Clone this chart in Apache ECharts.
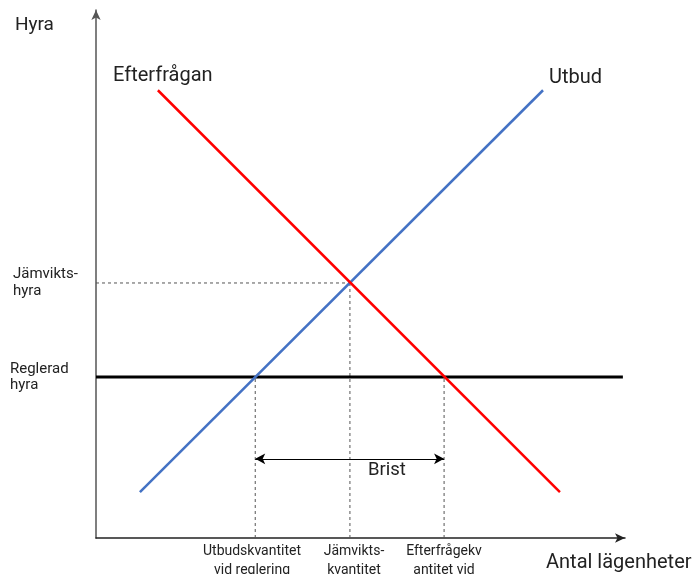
<!DOCTYPE html>
<html><head><meta charset="utf-8">
<script src="https://cdn.jsdelivr.net/npm/echarts@6/dist/echarts.min.js"></script>
<style>html,body{margin:0;padding:0;background:#fff}#c{width:692px;height:574px}</style>
</head><body><div id="c"></div>
<script>
// Data (abstract units, 0-100 on both axes)
const demandX = [11.7, 87.7];
const demandY = [84.8, 8.7];
const supplyX = [8.3, 84.5];
const supplyY = [8.7, 84.8];
const equilibrium = [48.0, 48.3];
const regulatedRent = 30.5;
const regulatedLineX = [0, 99.6];
const supplyAtRegulation = 30.1;
const demandAtRegulation = 65.8;
const shortageArrowY = 15.0;

const zip = (xs, ys) => xs.map((x, i) => [x, ys[i]]);
const dashStyle = {color: '#555', width: 1, type: [3, 3]};
const FONT = 'Roboto';
const TXT = '#222';

const chart = echarts.init(document.getElementById('c'), null, {renderer: 'canvas'});
chart.setOption({
  animation: false,
  grid: {left: 96, right: 67, top: 10, bottom: 36},
  xAxis: {type: 'value', min: 0, max: 100, splitLine: {show: false}, axisTick: {show: false}, axisLabel: {show: false},
    axisLine: {show: true, onZero: false, symbol: ['none', 'arrow'], symbolSize: [7, 10], lineStyle: {color: '#222', width: 1.5}}},
  yAxis: {type: 'value', min: 0, max: 100, splitLine: {show: false}, axisTick: {show: false}, axisLabel: {show: false},
    axisLine: {show: true, onZero: false, symbol: ['none', 'arrow'], symbolSize: [7, 10], lineStyle: {color: '#555', width: 1.5}}},
  series: [
    {type: 'line', data: [[0, equilibrium[1]], equilibrium], showSymbol: false, lineStyle: dashStyle, z: 1},
    {type: 'line', data: [[equilibrium[0], 0], equilibrium], showSymbol: false, lineStyle: dashStyle, z: 1},
    {type: 'line', data: [[supplyAtRegulation, 0], [supplyAtRegulation, regulatedRent]], showSymbol: false, lineStyle: dashStyle, z: 1},
    {type: 'line', data: [[demandAtRegulation, 0], [demandAtRegulation, regulatedRent]], showSymbol: false, lineStyle: dashStyle, z: 1},
    {type: 'line', data: zip(regulatedLineX, [regulatedRent, regulatedRent]), showSymbol: false, lineStyle: {color: '#000', width: 3}, z: 2},
    {type: 'line', data: zip(supplyX, supplyY), showSymbol: false, lineStyle: {color: '#4472C4', width: 2.5}, z: 3},
    {type: 'line', data: zip(demandX, demandY), showSymbol: false, lineStyle: {color: '#FF0000', width: 2.5}, z: 4,
      markLine: {silent: true, symbol: ['arrow', 'arrow'], symbolSize: [8, 10], label: {show: false},
        lineStyle: {color: '#000', width: 1.2, type: 'solid'},
        data: [[{coord: [supplyAtRegulation, shortageArrowY]}, {coord: [demandAtRegulation, shortageArrowY]}]]}}
  ],
  graphic: [
    {type: 'text', x: 15, y: 25, style: {text: 'Hyra', font: '19px ' + FONT, fill: TXT, verticalAlign: 'middle'}},
    {type: 'text', x: 113, y: 76, style: {text: 'Efterfrågan', font: '20px ' + FONT, fill: TXT, verticalAlign: 'middle'}},
    {type: 'text', x: 549, y: 78, style: {text: 'Utbud', font: '20px ' + FONT, fill: TXT, verticalAlign: 'middle'}},
    {type: 'text', x: 13, y: 283, style: {text: 'Jämvikts-\nhyra', font: '15px ' + FONT, fill: TXT, verticalAlign: 'middle', lineHeight: 17}},
    {type: 'text', x: 10, y: 377, style: {text: 'Reglerad\nhyra', font: '15px ' + FONT, fill: TXT, verticalAlign: 'middle', lineHeight: 16}},
    {type: 'text', x: 368, y: 470, style: {text: 'Brist', font: '18.5px ' + FONT, fill: TXT, verticalAlign: 'middle'}},
    {type: 'text', x: 546, y: 563, style: {text: 'Antal lägenheter', font: '20px ' + FONT, fill: TXT, verticalAlign: 'middle'}},
    {type: 'text', x: 252, y: 541.5, style: {text: 'Utbudskvantitet\nvid reglering', font: '14px ' + FONT, fill: TXT, align: 'center', verticalAlign: 'top', lineHeight: 19}},
    {type: 'text', x: 354, y: 541.5, style: {text: 'Jämvikts-\nkvantitet', font: '14px ' + FONT, fill: TXT, align: 'center', verticalAlign: 'top', lineHeight: 19}},
    {type: 'text', x: 444, y: 541.5, style: {text: 'Efterfrågekv\nantitet vid', font: '14px ' + FONT, fill: TXT, align: 'center', verticalAlign: 'top', lineHeight: 19}}
  ]
});
</script></body></html>
